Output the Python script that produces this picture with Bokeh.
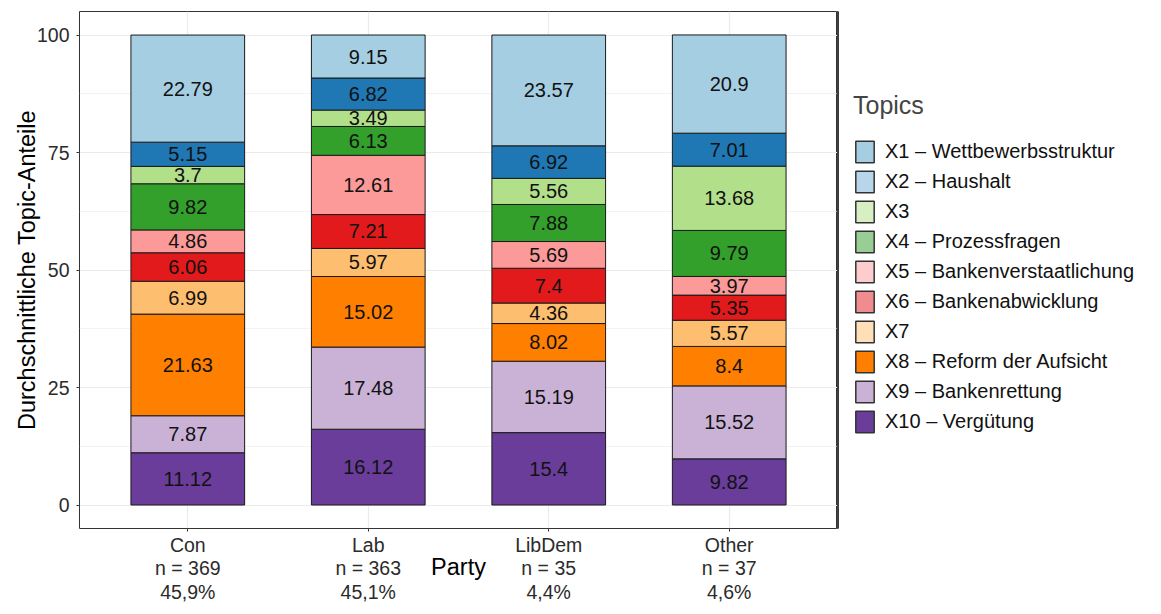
from bokeh.plotting import figure
from bokeh.layouts import row
from bokeh.models import ColumnDataSource, FixedTicker, Range1d, Legend, LegendItem
from bokeh.core.properties import value
from bokeh.embed import file_html
from bokeh.resources import INLINE

# ---------------- data ----------------
parties = ["Con", "Lab", "LibDem", "Other"]
party_n = [369, 363, 35, 37]
party_share = ["45,9%", "45,1%", "4,4%", "4,6%"]

topics = ["X1", "X2", "X3", "X4", "X5", "X6", "X7", "X8", "X9", "X10"]
topic_labels = [
    "X1 – Wettbewerbsstruktur",
    "X2 – Haushalt",
    "X3",
    "X4 – Prozessfragen",
    "X5 – Bankenverstaatlichung",
    "X6 – Bankenabwicklung",
    "X7",
    "X8 – Reform der Aufsicht",
    "X9 – Bankenrettung",
    "X10 – Vergütung",
]

# average topic shares (X1 ... X10) per party
con = [22.79, 5.15, 3.7, 9.82, 4.86, 6.06, 6.99, 21.63, 7.87, 11.12]
lab = [9.15, 6.82, 3.49, 6.13, 12.61, 7.21, 5.97, 15.02, 17.48, 16.12]
libdem = [23.57, 6.92, 5.56, 7.88, 5.69, 7.4, 4.36, 8.02, 15.19, 15.4]
other = [20.9, 7.01, 13.68, 9.79, 3.97, 5.35, 5.57, 8.4, 15.52, 9.82]
shares = [con, lab, libdem, other]

bar_colors = ["#A6CEE3", "#1F78B4", "#B2DF8A", "#33A02C", "#FB9A99",
              "#E31A1C", "#FDBF6F", "#FF7F00", "#CAB2D6", "#6A3D9A"]
legend_colors = ["#A6CEE3", "#B8D5EA", "#D8EFC4", "#98CE94", "#FDCCCC",
                 "#F08C8D", "#FEDFB7", "#FF7F00", "#CAB2D6", "#6A3D9A"]

y_ticks = [0, 25, 50, 75, 100]
y_minor = [12.5, 37.5, 62.5, 87.5]

FONT = "Liberation Sans"

# ---------------- build stacked segments ----------------
xs, bottoms, tops, mids, cols, texts = [], [], [], [], [], []
for i, vals in enumerate(shares):
    base = 0.0
    for t in reversed(range(len(topics))):
        v = vals[t]
        xs.append(i + 1)
        bottoms.append(base)
        tops.append(base + v)
        mids.append(base + v / 2)
        cols.append(bar_colors[t])
        texts.append(f"{v:g}")
        base += v

src = ColumnDataSource(dict(x=xs, bottom=bottoms, top=tops, mid=mids, color=cols, label=texts))

H = 604
p = figure(width=837, height=H,
           x_range=Range1d(0.4, 4.6), y_range=Range1d(-5, 105),
           output_backend="svg", toolbar_location=None,
           min_border_left=79, min_border_right=0,
           min_border_top=11, min_border_bottom=76)

p.vbar(x="x", bottom="bottom", top="top", width=0.63, source=src,
       fill_color="color", line_color="#1a1a1a", line_width=1)

p.text(x="x", y="mid", text="label", source=src,
       text_font=value(FONT), text_font_size="20px", text_color="#111111",
       text_align="center", text_baseline="middle")

# ---------------- axes & grid ----------------
yt = FixedTicker(ticks=y_ticks, minor_ticks=y_minor)
xt = FixedTicker(ticks=[1, 2, 3, 4])
p.yaxis.ticker = yt
p.xaxis.ticker = xt
p.ygrid.ticker = yt
p.xgrid.ticker = xt
p.ygrid.grid_line_color = "#EBEBEB"
p.ygrid.grid_line_width = 1.2
p.ygrid.minor_grid_line_color = "#EBEBEB"
p.ygrid.minor_grid_line_width = 0.6
p.xgrid.grid_line_color = "#EBEBEB"
p.xgrid.grid_line_width = 1.2

p.xaxis.major_label_overrides = {
    i + 1: f"{parties[i]}\nn = {party_n[i]}\n{party_share[i]}" for i in range(len(parties))
}

for ax in (p.xaxis, p.yaxis):
    ax.axis_line_color = None
    ax.minor_tick_line_color = None
    ax.major_tick_line_color = "#333333"
    ax.major_tick_in = 0
    ax.major_tick_out = 3
    ax.major_label_text_font = FONT
    ax.major_label_text_font_size = "19.5px"
    ax.major_label_text_color = "#2b2b2b"
    ax.axis_label_text_font = FONT
    ax.axis_label_text_font_style = "normal"
    ax.axis_label_text_font_size = "23.5px"
    ax.axis_label_text_color = "#000000"

p.yaxis.axis_label = "Durchschnittliche Topic-Anteile"
p.yaxis.major_label_standoff = 6
p.yaxis.axis_label_standoff = -6

p.xaxis.axis_label = "Party"
p.xaxis.major_label_standoff = 2
p.xaxis.major_label_text_line_height = 1.075
p.xaxis.axis_label_standoff = -52

p.outline_line_color = "#333333"
p.outline_line_width = 1
p.background_fill_color = "white"

# ---------------- legend (separate panel on the right) ----------------
q = figure(width=308, height=H, x_range=Range1d(0, 1), y_range=Range1d(0, 1),
           output_backend="svg", toolbar_location=None, min_border=0,
           x_axis_location=None, y_axis_location=None)
q.grid.visible = False
q.outline_line_color = None

items = []
for t in range(len(topics)):
    key_src = ColumnDataSource(dict(x=[-100.0], top=[1.0]))
    r = q.vbar(x="x", top="top", width=0.5, source=key_src, fill_color=legend_colors[t],
               line_color="#333333", line_width=1.5)
    items.append(LegendItem(label=topic_labels[t], renderers=[r]))

legend = Legend(items=items, location=(16, 93),
                title="Topics", title_text_font=FONT, title_text_font_size="25px",
                title_text_font_style="normal", title_standoff=18,
                label_text_font=FONT, label_text_font_size="20px",
                label_text_color="#111111",
                glyph_width=23, glyph_height=27, label_height=27,
                spacing=3, label_standoff=9, padding=0, margin=0,
                border_line_color=None, background_fill_alpha=0)
q.add_layout(legend, "center")

layout = row(p, q)
open("out.html", "w").write(file_html(layout, INLINE))
